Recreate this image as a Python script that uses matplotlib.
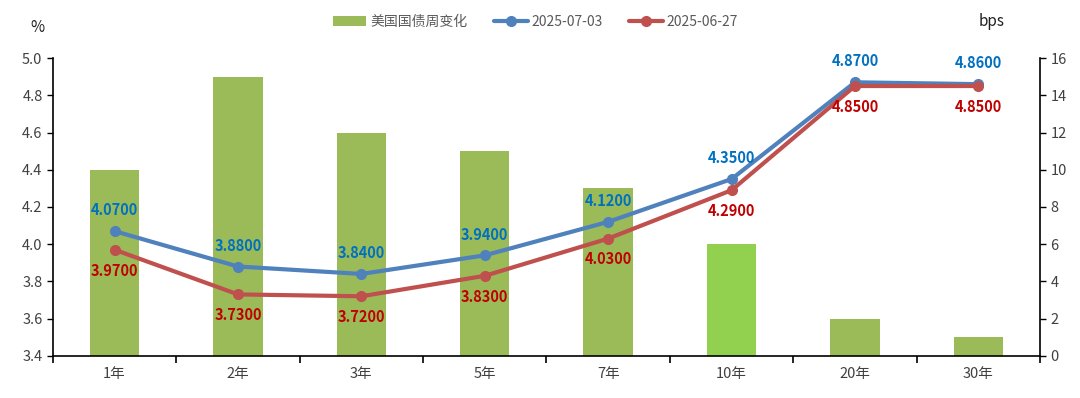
import matplotlib
matplotlib.use('Agg')
import matplotlib.pyplot as plt
import numpy as np

plt.rcParams['font.family'] = ['Noto Sans CJK SC', 'DejaVu Sans']

tenors = ['1年', '2年', '3年', '5年', '7年', '10年', '20年', '30年']
weekly_change = [10, 15, 12, 11, 9, 6, 2, 1]
yield_0703 = [4.07, 3.88, 3.84, 3.94, 4.12, 4.35, 4.87, 4.86]
yield_0627 = [3.97, 3.73, 3.72, 3.83, 4.03, 4.29, 4.85, 4.85]

bar_colors = ['#9BBB59'] * len(tenors)
bar_colors[5] = '#92D050'

fig = plt.figure(figsize=(10.8, 3.98), dpi=100)
ax = fig.add_axes([0.049, 0.106, 0.914, 0.748])
ax2 = ax.twinx()

x = np.arange(len(tenors))

# bars on the right axis (bps)
bars = ax2.bar(x, weekly_change, width=0.4, color=bar_colors, zorder=1,
               label='美国国债周变化')
ax2.set_ylim(0, 16)
ax2.set_yticks(np.arange(0, 17, 2))

# lines on the left axis (%)
ax.set_zorder(ax2.get_zorder() + 1)
ax.patch.set_visible(False)
l1, = ax.plot(x, yield_0703, color='#4F81BD', lw=3, marker='o', ms=7,
              label='2025-07-03', solid_capstyle='round')
l2, = ax.plot(x, yield_0627, color='#C0504D', lw=3, marker='o', ms=7,
              label='2025-06-27', solid_capstyle='round')

for xi, v in zip(x, yield_0703):
    ax.annotate(f'{v:.4f}', (xi, v), xytext=(0, 15), textcoords='offset points',
                ha='center', va='center', color='#0070C0', fontsize=10.5,
                fontweight='bold')
for xi, v in zip(x, yield_0627):
    ax.annotate(f'{v:.4f}', (xi, v), xytext=(0, -15), textcoords='offset points',
                ha='center', va='center', color='#C00000', fontsize=10.5,
                fontweight='bold')

ax.set_xlim(-0.5, len(tenors) - 0.5)
ax.set_ylim(3.4, 5.0)
ax.set_yticks(np.arange(3.4, 5.01, 0.2))
ax.set_yticklabels([f'{t:.1f}' for t in np.arange(3.4, 5.01, 0.2)])
ax.set_xticks(x)
ax.set_xticklabels(tenors)
ax.set_xticks(np.arange(-0.5, len(tenors), 1), minor=True)
ax.tick_params(axis='x', which='major', length=0, pad=8, labelsize=10.5,
               labelcolor='#404040')
ax.tick_params(axis='x', which='minor', length=5, width=1.2, direction='out')
ax.tick_params(axis='y', length=4, width=1, labelsize=10.5, labelcolor='#404040')
ax2.tick_params(axis='y', length=4, width=1, labelsize=10.5, labelcolor='#404040')

for a in (ax, ax2):
    a.spines['top'].set_visible(False)
    for s in ('left', 'right', 'bottom'):
        a.spines[s].set_linewidth(1.2)
ax.spines['right'].set_visible(False)
ax2.spines['left'].set_visible(False)
ax2.spines['bottom'].set_visible(False)

fig.text(0.035, 0.93, '%', fontsize=11, color='#202020', ha='center', va='center')
fig.text(0.918, 0.945, 'bps', fontsize=11, color='#202020', ha='center', va='center')

fig.legend([bars, l1, l2], ['美国国债周变化', '2025-07-03', '2025-06-27'],
           loc='center', bbox_to_anchor=(0.496, 0.945), ncol=3, frameon=False,
           fontsize=10, labelcolor='#595959', handlelength=2.4,
           columnspacing=1.9, handletextpad=0.3)

fig.savefig('out.png', dpi=100)
